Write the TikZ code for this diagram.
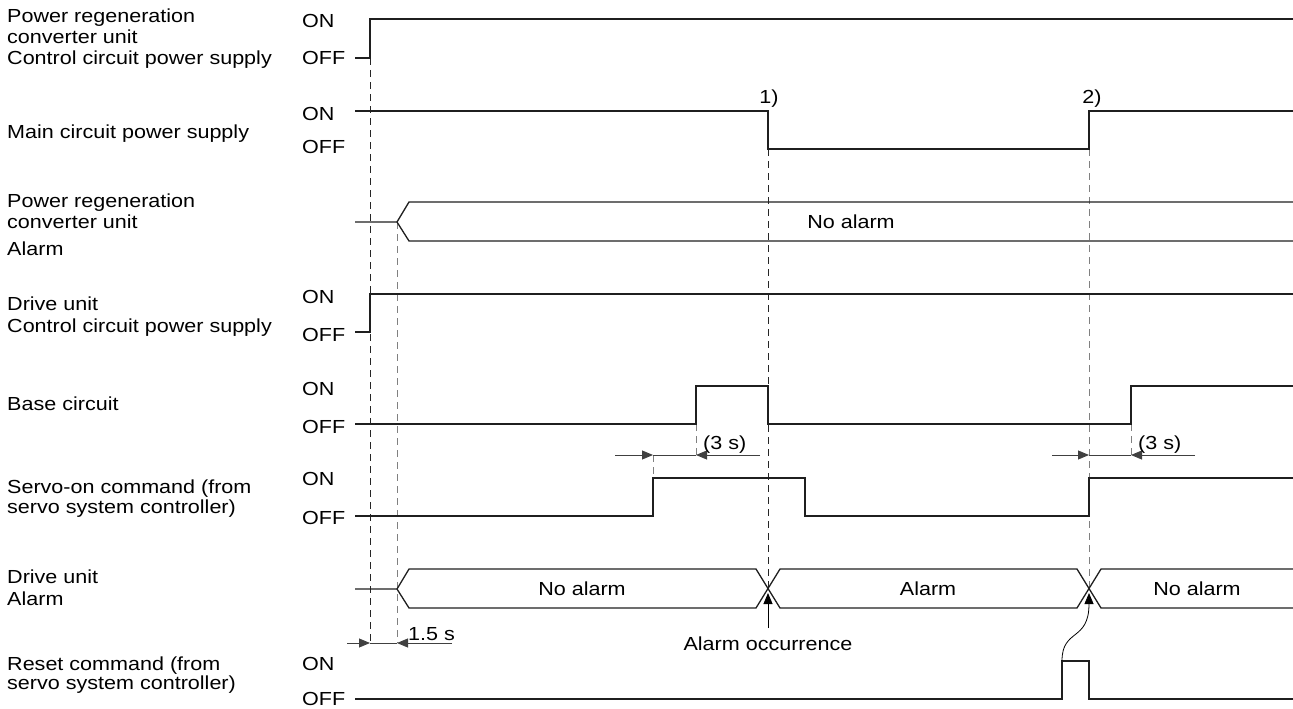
\documentclass[tikz,border=0pt]{standalone}
\usepackage{fontspec}
\setmainfont{Liberation Sans}[FakeStretch=1.14]
\usetikzlibrary{arrows.meta}
\begin{document}
\begin{tikzpicture}[x=1pt,y=-1pt,
  font=\fontsize{18.9}{21}\selectfont,
  sig/.style={line width=1.3pt, line join=miter, draw=black!88},
  dsh/.style={line width=0.9pt, dash pattern=on 7pt off 5pt, draw=black!85},
  dshg/.style={dsh, draw=black!50},
  dim/.style={line width=0.9pt, draw=black!75},
  tip/.style={-{Triangle[length=11pt,width=9pt]}},
  lbl/.style={anchor=base west, inner sep=0pt}]
\useasboundingbox (0,0) rectangle (1293,709);

% ---- left labels
\node[lbl] (l1a) at (7,23) {Power regeneration};
\node[lbl] (l1b) at (7,44) {converter unit};
\node[lbl] (l1c) at (7,65) {Control circuit power supply};
\node[lbl] (l2) at (7,138) {Main circuit power supply};
\node[lbl] (l3a) at (7,207) {Power regeneration};
\node[lbl] (l3b) at (7,228) {converter unit};
\node[lbl] (l3c) at (7,255) {Alarm};
\node[lbl] (l4a) at (7,310) {Drive unit};
\node[lbl] (l4b) at (7,332) {Control circuit power supply};
\node[lbl] (l5) at (7,410) {Base circuit};
\node[lbl] (l6a) at (7,493) {Servo-on command (from};
\node[lbl] (l6b) at (7,513) {servo system controller)};
\node[lbl] (l7a) at (7,583) {Drive unit};
\node[lbl] (l7b) at (7,605) {Alarm};
\node[lbl] (l8a) at (7,670) {Reset command (from};
\node[lbl] (l8b) at (7,689) {servo system controller)};

% ---- ON / OFF
\node[lbl] (on1) at (302,28) {ON};   \node[lbl] (off1) at (302,65) {OFF};
\node[lbl] (on2) at (302,120) {ON};  \node[lbl] (off2) at (302,153) {OFF};
\node[lbl] (on4) at (302,303) {ON};  \node[lbl] (off4) at (302,341) {OFF};
\node[lbl] (on5) at (302,395) {ON};  \node[lbl] (off5) at (302,433) {OFF};
\node[lbl] (on6) at (302,485) {ON};  \node[lbl] (off6) at (302,524) {OFF};
\node[lbl] (on8) at (302,670) {ON};  \node[lbl] (off8) at (302,705) {OFF};

% ---- dashed guide lines
\draw[dsh] (370,58) -- (370,643);
\draw[dshg] (397,222) -- (397,643);
\draw[dsh] (768,149) -- (768,589);
\draw[dshg] (1089,149) -- (1089,589);
\draw[dshg] (696,424) -- (696,455);
\draw[dshg] (653,455) -- (653,478);
\draw[dshg] (1131,424) -- (1131,455);

% ---- waveforms
\draw[sig] (355,58) -- (370,58) -- (370,19) -- (1293,19);
\draw[sig] (355,111) -- (768,111) -- (768,149) -- (1089,149) -- (1089,111) -- (1293,111);
\draw[sig] (355,222) -- (397,222) -- (409,202) -- (1293,202);
\draw[sig] (397,222) -- (409,241) -- (1293,241);
\draw[sig] (355,332) -- (370,332) -- (370,294) -- (1293,294);
\draw[sig] (355,424) -- (696,424) -- (696,386) -- (768,386) -- (768,424) -- (1131,424) -- (1131,386) -- (1293,386);
\draw[sig] (355,516) -- (653,516) -- (653,478) -- (805,478) -- (805,516) -- (1089,516) -- (1089,478) -- (1293,478);
\draw[sig] (355,589) -- (397,589) -- (409,569) -- (756,569) -- (780,608) -- (1077,608) -- (1101,569) -- (1293,569);
\draw[sig] (397,589) -- (409,608) -- (756,608) -- (780,569) -- (1077,569) -- (1101,608) -- (1293,608);
\draw[sig] (355,699) -- (1062,699) -- (1062,661) -- (1089,661) -- (1089,699) -- (1293,699);

% ---- waveform texts
\node (na1) at (851,222) {No alarm};
\node (na2) at (582,589) {No alarm};
\node (al) at (928,589) {Alarm};
\node (na3) at (1197,589) {No alarm};
\node (m1) at (769,99) {1)};
\node (m2) at (1092,99) {2)};

% ---- timing dimensions
\draw[dim] (653,455) -- (696,455);
\draw[dim,tip] (615,455) -- (653,455);
\draw[dim,tip] (760,455) -- (696,455);
\node[lbl] (t1) at (703,449) {(3 s)};
\draw[dim] (1089,455) -- (1131,455);
\draw[dim,tip] (1052,455) -- (1089,455);
\draw[dim,tip] (1195,455) -- (1131,455);
\node[lbl] (t2) at (1138,449) {(3 s)};
\draw[dim] (370,643) -- (397,643);
\draw[dim,tip] (347,643) -- (370,643);
\draw[dim,tip] (452,643) -- (397,643);
\node[lbl] (t3) at (408,640) {1.5 s};

% ---- alarm occurrence and reset
\coordinate (ao) at (768,628);
\coordinate (x1) at (768,593);
\draw[dim,draw=black,tip] (ao) -- (x1);
\node[anchor=base, inner sep=0pt] (aot) at (768,650) {Alarm occurrence};
\coordinate (rs) at (1062,661);
\coordinate (x2) at (1089,593);
\draw[line width=0.8pt,tip] (rs) .. controls (1062,628) and (1089,642) .. (x2);
\end{tikzpicture}
\end{document}
